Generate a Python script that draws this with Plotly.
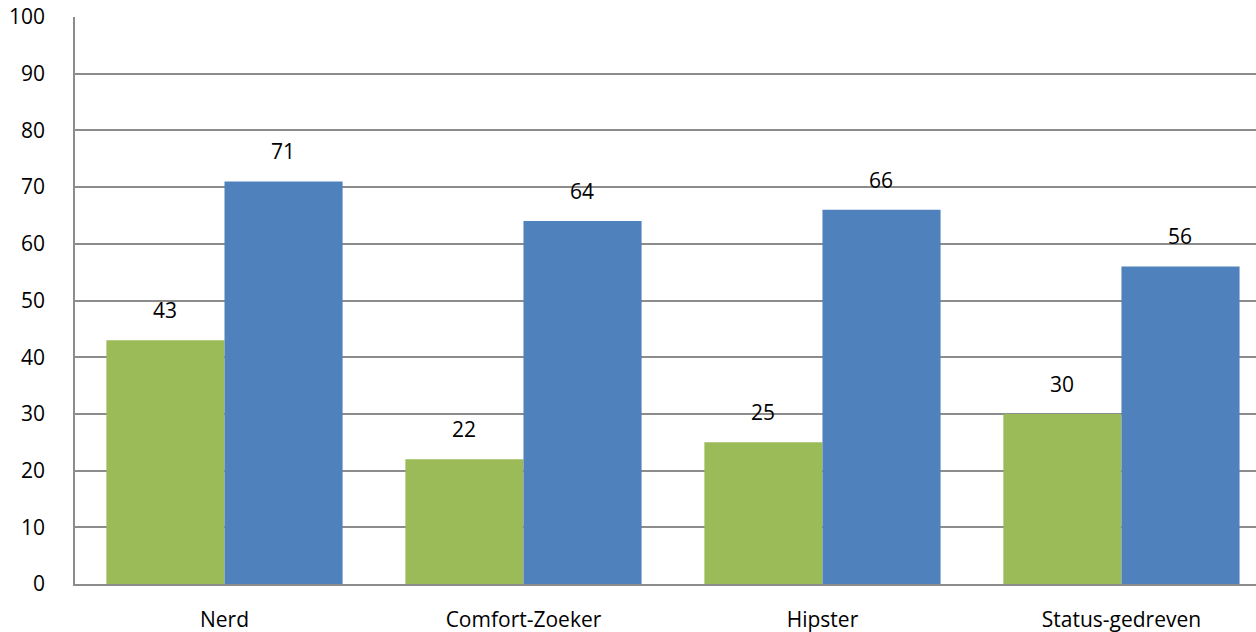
import plotly.graph_objects as go

categories = ["Nerd", "Comfort-Zoeker", "Hipster", "Status-gedreven"]
series_green = [43, 22, 25, 30]
series_blue = [71, 64, 66, 56]
y_ticks = [0, 10, 20, 30, 40, 50, 60, 70, 80, 90, 100]

GREEN = "#9BBB59"
BLUE = "#4F81BD"
FONT = "Open Sans"
FS = 21

fig = go.Figure()
fig.add_trace(go.Bar(x=categories, y=series_green, marker_color=GREEN, marker_line_width=0, name="A"))
fig.add_trace(go.Bar(x=categories, y=series_blue, marker_color=BLUE, marker_line_width=0, name="B"))

annotations = []
for cat, g, b in zip(categories, series_green, series_blue):
    annotations.append(dict(x=cat, y=g, xref="x", yref="y", text=str(g), showarrow=False,
                            xshift=-59, yshift=30, font=dict(size=FS, color="#000", family=FONT)))
    annotations.append(dict(x=cat, y=b, xref="x", yref="y", text=str(b), showarrow=False,
                            xshift=59, yshift=30, font=dict(size=FS, color="#000", family=FONT)))

fig.update_layout(
    width=1256, height=632,
    margin=dict(l=75, r=0, t=17, b=48),
    paper_bgcolor="white", plot_bgcolor="white",
    barmode="group", bargap=0.21, bargroupgap=0,
    showlegend=False,
    annotations=annotations,
    font=dict(family=FONT, size=FS, color="#000"),
)
fig.update_xaxes(range=[-0.5, 3.45], showgrid=False, showline=True, linecolor="#8c8c8c", linewidth=1.5,
                 ticks="", tickfont=dict(size=FS, family=FONT), ticklabelstandoff=16)
fig.update_yaxes(range=[0, 100], tickvals=y_ticks, showgrid=True, gridcolor="#8c8c8c", gridwidth=1.5,
                 showline=True, linecolor="#8c8c8c", linewidth=1.5, ticks="", zeroline=False,
                 tickfont=dict(size=FS, family=FONT), ticklabelstandoff=24)

fig.write_html("out.html", config={"displayModeBar": False},
               post_script="document.body.style.margin='0';document.body.style.overflow='hidden';")
